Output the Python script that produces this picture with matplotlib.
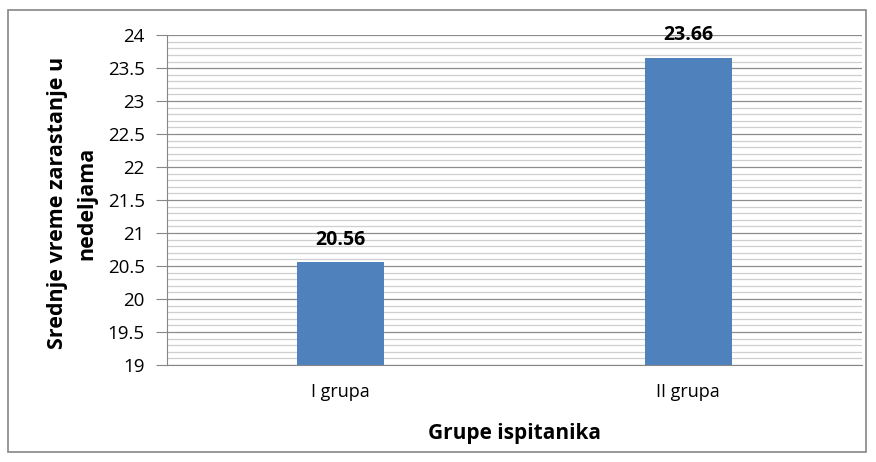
import numpy as np
import matplotlib.pyplot as plt
from matplotlib.patches import Rectangle
from matplotlib.ticker import MultipleLocator

# Srednje vreme zarastanja po grupama
groups = ['I grupa', 'II grupa']
values = [20.56, 23.66]

plt.rcParams['font.family'] = ['Open Sans', 'DejaVu Sans']

fig = plt.figure(figsize=(8.76, 4.62), dpi=100)
ax = fig.add_axes([0.1906, 0.21, 0.7934, 0.714])

# outer chart frame
fig.patches.append(Rectangle((8 / 876, 10 / 462), 858 / 876, 442 / 462,
                             transform=fig.transFigure, fill=False,
                             edgecolor='#868686', lw=1.2))

x = np.arange(len(groups))
bars = ax.bar(x, values, width=0.25, color='#4F81BD', zorder=3)

for xi, v in zip(x, values):
    ax.text(xi, v + 0.19, f'{v:.2f}', ha='center', va='bottom',
            fontsize=14, fontweight='bold', zorder=4)

ax.set_xlim(-0.5, 1.5)
ax.set_ylim(19, 24)
ax.yaxis.set_minor_locator(MultipleLocator(0.1))
ax.set_yticks(np.arange(19, 24.01, 0.5))
ax.set_yticklabels([f'{t:g}' for t in np.arange(19, 24.01, 0.5)])
ax.grid(which='major', axis='y', color='#8c8c8c', lw=0.9, zorder=0)
ax.grid(which='minor', axis='y', color='#cfcfcf', lw=0.9, zorder=0)

ax.set_xticks(x)
ax.set_xticklabels(groups)
ax.tick_params(axis='x', length=0, pad=13, labelsize=13)
ax.tick_params(axis='y', which='major', length=8, color='#868686', labelsize=13.5, pad=8)
ax.tick_params(axis='y', which='minor', length=0)

for s in ['top', 'right']:
    ax.spines[s].set_visible(False)
ax.spines['left'].set_color('#868686')
ax.spines['bottom'].set_color('#868686')

ax.set_xlabel('Grupe ispitanika', fontsize=15, fontweight='bold', labelpad=16)
ax.set_ylabel('Srednje vreme zarastanje u\nnedeljama', fontsize=15.5,
              fontweight='bold', linespacing=1.55)
ax.yaxis.set_label_coords(-0.1, 0.49)

fig.savefig('out.png', dpi=100)
